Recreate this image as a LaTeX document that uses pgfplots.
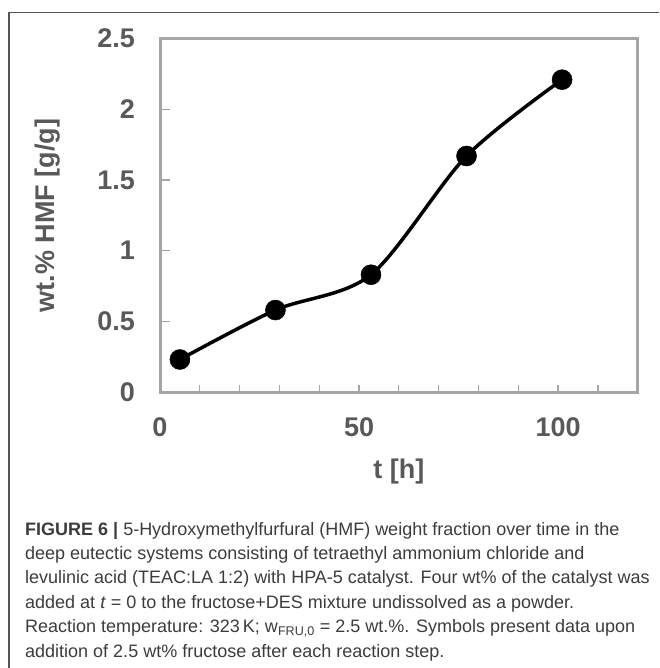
\documentclass[border=0pt]{standalone}
\usepackage{pgfplots}
\pgfplotsset{compat=1.18}
\usepackage{fontspec}
\setmainfont{Liberation Sans}
\definecolor{axgray}{HTML}{A6A6A6}
\definecolor{lblgray}{HTML}{595959}
\definecolor{capgray}{HTML}{3C3C3C}
\definecolor{framegray}{HTML}{555555}
\begin{document}
\begin{tikzpicture}[x=1pt,y=1pt]
\path[use as bounding box] (0,0) rectangle (659,-668);
\draw[framegray, line width=1.5pt] (9,-668) -- (9,-12.5) -- (659,-12.5);
\begin{axis}[
  at={(160pt,-392pt)}, anchor=south west,
  scale only axis, width=477.7pt, height=353.3pt,
  xmin=0, xmax=120, ymin=0, ymax=2.5,
  xtick={0,50,100}, minor xtick={0,10,...,120},
  ytick={0,0.5,...,2.5},
  axis line style={axgray, line width=3pt},
  tick style={axgray, line width=1.2pt},
  major tick length=10pt, minor tick length=7pt,
  tick align=inside,
  xtick pos=bottom, ytick pos=left,
  major x tick style={draw=none},
  /pgf/number format/assume math mode=true,
  tick label style={font=\fontsize{27}{27}\selectfont\bfseries, text=lblgray},
  yticklabel style={/pgf/number format/fixed, inner sep=0pt, anchor=east, xshift=-25pt},
  xticklabel style={inner sep=0pt, anchor=north, yshift=-25pt},
  xlabel={t [h]}, ylabel={wt.\% HMF [g/g]},
  label style={font=\fontsize{27}{27}\selectfont\bfseries, text=lblgray},
  xlabel style={at={(axis description cs:0.5,-0.2264)}, anchor=center},
  ylabel style={at={(axis description cs:-0.2345,0.5)}, anchor=center},
  clip=false,
]
\addplot[black, line width=3.5pt, smooth, mark=*, mark size=10pt, mark options={solid, fill=black, line width=0.5pt}]
  coordinates {(5,0.23) (29,0.58) (53,0.83) (77,1.67) (101,2.21)};
\end{axis}
\begin{scope}[every node/.style={anchor=base west, inner sep=0pt, text=capgray, font=\fontsize{18}{18}\selectfont}]
\node at (25,-535) {\textbf{FIGURE 6 |} 5-Hydroxymethylfurfural (HMF) weight fraction over time in the};
\node at (25,-559.4) {deep eutectic systems consisting of tetraethyl ammonium chloride and};
\node at (25,-583.8) {levulinic acid (TEAC:LA 1:2) with HPA-5 catalyst. Four wt\% of the catalyst was};
\node at (25,-608.2) {added at \textit{t} = 0 to the fructose+DES mixture undissolved as a powder.};
\node at (25,-632.6) {Reaction temperature: 323\,K; w\textsubscript{FRU,0} = 2.5 wt.\%. Symbols present data upon};
\node at (25,-657) {addition of 2.5 wt\% fructose after each reaction step.};
\end{scope}
\end{tikzpicture}
\end{document}
